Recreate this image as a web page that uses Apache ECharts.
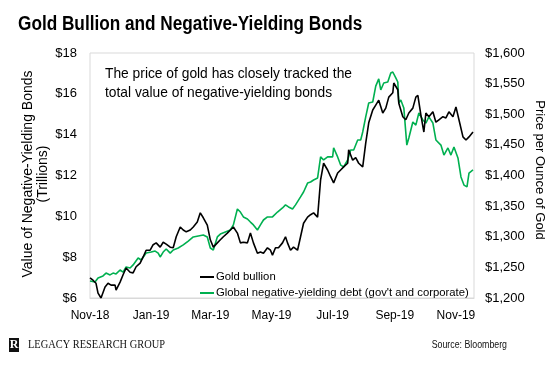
<!DOCTYPE html>
<html>
<head>
<meta charset="utf-8">
<script src="https://cdn.jsdelivr.net/npm/echarts@6/dist/echarts.min.js"></script>
<style>
html,body{margin:0;padding:0;background:#fff;}
#c{width:560px;height:372px;}
</style>
</head>
<body>
<div id="c"></div>
<script>
// ---- Data ----
const tickDates = ['2018-11-01','2019-01-01','2019-03-01','2019-05-01','2019-07-01','2019-09-01','2019-11-01'];
const tickLabels = ['Nov-18','Jan-19','Mar-19','May-19','Jul-19','Sep-19','Nov-19'];
const leftTicks = [6, 8, 10, 12, 14, 16, 18];
const rightTicks = [1200, 1250, 1300, 1350, 1400, 1450, 1500, 1550, 1600];

const debtDates = ['2018-11-01','2018-11-06','2018-11-09','2018-11-14','2018-11-17','2018-11-21','2018-11-24','2018-11-27','2018-12-01','2018-12-04','2018-12-07','2018-12-11','2018-12-14','2018-12-19','2018-12-22','2018-12-27','2019-01-01','2019-01-05','2019-01-08','2019-01-10','2019-01-13','2019-01-16','2019-01-20','2019-01-23','2019-01-28','2019-02-02','2019-02-07','2019-02-12','2019-02-17','2019-02-22','2019-02-26','2019-03-01','2019-03-04','2019-03-08','2019-03-11','2019-03-16','2019-03-21','2019-03-24','2019-03-28','2019-03-31','2019-04-03','2019-04-07','2019-04-10','2019-04-13','2019-04-17','2019-04-20','2019-04-23','2019-04-27','2019-05-02','2019-05-07','2019-05-12','2019-05-15','2019-05-18','2019-05-22','2019-05-25','2019-05-30','2019-06-02','2019-06-06','2019-06-09','2019-06-12','2019-06-16','2019-06-19','2019-06-22','2019-06-26','2019-07-01','2019-07-02','2019-07-06','2019-07-09','2019-07-12','2019-07-16','2019-07-19','2019-07-22','2019-07-26','2019-07-29','2019-07-31','2019-08-03','2019-08-06','2019-08-10','2019-08-13','2019-08-16','2019-08-18','2019-08-21','2019-08-25','2019-08-28','2019-08-30','2019-09-02','2019-09-04','2019-09-05','2019-09-07','2019-09-10','2019-09-13','2019-09-15','2019-09-19','2019-09-22','2019-09-25','2019-09-29','2019-10-02','2019-10-05','2019-10-09','2019-10-12','2019-10-17','2019-10-20','2019-10-24','2019-10-27','2019-10-30','2019-11-03','2019-11-06','2019-11-09','2019-11-12','2019-11-14','2019-11-18'];
const debtValues = [6.83,6.78,6.98,7.08,7.22,7.13,7.22,7.18,7.37,7.27,7.52,7.47,7.62,7.96,7.86,8.20,8.25,8.30,8.20,8.01,8.25,8.40,8.20,8.35,8.45,8.60,8.79,8.99,9.04,9.09,8.99,8.45,8.35,8.99,9.13,9.23,9.33,9.58,10.36,10.21,9.97,9.87,9.72,9.58,9.33,9.58,9.82,9.97,9.97,10.21,10.41,10.56,10.46,10.36,10.56,10.95,11.19,11.63,11.68,11.78,11.88,12.91,12.76,12.91,12.91,13.35,12.91,12.51,12.42,12.76,13.25,13.25,13.74,13.74,14.13,14.87,15.55,15.60,16.38,16.73,16.19,16.53,16.58,17.02,17.07,16.78,16.58,15.55,15.70,15.31,13.49,13.84,14.62,14.47,15.06,14.72,14.57,14.87,14.57,13.74,13.49,13.00,13.35,13.00,13.40,12.86,11.93,11.53,11.44,12.12,12.27];

const goldDates = ['2018-11-01','2018-11-04','2018-11-07','2018-11-09','2018-11-12','2018-11-16','2018-11-19','2018-11-22','2018-11-26','2018-11-27','2018-12-01','2018-12-04','2018-12-07','2018-12-11','2018-12-14','2018-12-17','2018-12-21','2018-12-24','2018-12-27','2018-12-31','2019-01-03','2019-01-06','2019-01-10','2019-01-13','2019-01-16','2019-01-20','2019-01-23','2019-01-26','2019-01-30','2019-02-02','2019-02-05','2019-02-09','2019-02-12','2019-02-16','2019-02-19','2019-02-22','2019-02-26','2019-03-01','2019-03-04','2019-03-08','2019-03-11','2019-03-14','2019-03-18','2019-03-21','2019-03-24','2019-03-28','2019-03-31','2019-04-03','2019-04-07','2019-04-10','2019-04-13','2019-04-17','2019-04-20','2019-04-23','2019-04-27','2019-04-30','2019-05-02','2019-05-05','2019-05-08','2019-05-12','2019-05-15','2019-05-17','2019-05-20','2019-05-23','2019-05-27','2019-05-30','2019-06-02','2019-06-06','2019-06-09','2019-06-12','2019-06-16','2019-06-19','2019-06-22','2019-06-26','2019-06-29','2019-07-02','2019-07-06','2019-07-09','2019-07-12','2019-07-16','2019-07-17','2019-07-21','2019-07-24','2019-07-27','2019-07-31','2019-08-03','2019-08-06','2019-08-10','2019-08-13','2019-08-16','2019-08-20','2019-08-23','2019-08-26','2019-08-30','2019-08-31','2019-09-04','2019-09-05','2019-09-09','2019-09-12','2019-09-15','2019-09-19','2019-09-22','2019-09-24','2019-09-27','2019-09-30','2019-10-02','2019-10-05','2019-10-09','2019-10-12','2019-10-15','2019-10-19','2019-10-22','2019-10-25','2019-10-29','2019-11-01','2019-11-04','2019-11-08','2019-11-11','2019-11-14','2019-11-18'];
const goldValues = [1233,1229,1224,1208,1200,1218,1224,1221,1221,1213,1226,1238,1249,1242,1241,1251,1257,1267,1278,1278,1287,1290,1283,1291,1288,1283,1282,1300,1316,1311,1308,1311,1316,1324,1339,1331,1319,1295,1283,1290,1295,1300,1306,1311,1316,1306,1290,1291,1290,1306,1290,1273,1275,1273,1282,1278,1270,1282,1282,1290,1300,1290,1278,1283,1278,1300,1322,1332,1336,1339,1332,1393,1420,1409,1398,1388,1404,1409,1414,1420,1442,1425,1429,1420,1414,1453,1486,1507,1515,1523,1502,1510,1528,1535,1551,1540,1518,1496,1491,1502,1510,1528,1531,1499,1471,1502,1496,1504,1487,1491,1496,1494,1504,1496,1512,1491,1463,1458,1463,1471];

const seriesNames = ['Gold bullion', "Global negative-yielding debt (gov't and corporate)"];
const titleText = 'Gold Bullion and Negative-Yielding Bonds';
const noteText = 'The price of gold has closely tracked the\ntotal value of negative-yielding bonds';
const leftAxisName = 'Value of Negative-Yielding Bonds\n(Trillions)';
const rightAxisName = 'Price per Ounce of Gold';
const brandText = 'LEGACY RESEARCH GROUP';
const sourceText = 'Source: Bloomberg';
const xMinDate = '2018-11-01';
const xMaxDate = '2019-11-19';

// ---- Chart ----
const FONT = '"Liberation Sans",Arial,sans-serif';
const ts = d => +echarts.time.parse(d);
const tickTs = tickDates.map(ts);
const chart = echarts.init(document.getElementById('c'), null, {renderer: 'canvas'});

function fmtMoney(v) {
  return '$' + String(v).replace(/\B(?=(\d{3})+(?!\d))/g, ',');
}

chart.setOption({
  animation: false,
  backgroundColor: '#fff',
  textStyle: {fontFamily: FONT},
  grid: {left: 90, right: 86, top: 53, bottom: 74, show: true, borderColor: '#d9d9d9', borderWidth: 1},
  xAxis: {
    type: 'value',
    min: ts(xMinDate),
    max: ts(xMaxDate),
    splitLine: {show: false},
    axisTick: {show: false},
    axisLine: {show: true, lineStyle: {color: '#d9d9d9'}},
    axisLabel: {
      customValues: tickTs,
      margin: 12,
      fontSize: 12,
      color: '#000',
      fontFamily: FONT,
      showMinLabel: true,
      showMaxLabel: true,
      formatter: function (v) {
        const i = tickTs.findIndex(t => Math.abs(t - v) < 86400000);
        return i >= 0 ? tickLabels[i] : '';
      }
    }
  },
  yAxis: [
    {
      type: 'value', min: leftTicks[0], max: leftTicks[leftTicks.length - 1], interval: 2,
      splitLine: {show: false}, axisTick: {show: false}, axisLine: {show: false},
      axisLabel: {margin: 13, fontSize: 13, color: '#000', fontFamily: FONT, formatter: v => '$' + v}
    },
    {
      type: 'value', min: rightTicks[0], max: rightTicks[rightTicks.length - 1], interval: 50,
      splitLine: {show: false}, axisTick: {show: false}, axisLine: {show: false},
      axisLabel: {margin: 11, fontSize: 13, color: '#000', fontFamily: FONT, formatter: fmtMoney}
    }
  ],
  legend: {
    orient: 'vertical',
    left: 200,
    top: 270,
    icon: 'rect',
    itemWidth: 14,
    itemHeight: 2,
    itemGap: 2,
    padding: 0,
    textStyle: {fontSize: 11.3, color: '#000', fontFamily: FONT, padding: [0, 0, 0, -3], lineHeight: 14},
    data: seriesNames
  },
  series: [
    {
      name: seriesNames[0], type: 'line', yAxisIndex: 1, symbol: 'none', showSymbol: false,
      lineStyle: {color: '#000', width: 1.6}, itemStyle: {color: '#000'}, z: 3,
      data: goldDates.map((d, i) => [ts(d), goldValues[i]])
    },
    {
      name: seriesNames[1], type: 'line', yAxisIndex: 0, symbol: 'none', showSymbol: false,
      lineStyle: {color: '#00b050', width: 1.6}, itemStyle: {color: '#00b050'}, z: 2,
      data: debtDates.map((d, i) => [ts(d), debtValues[i]])
    }
  ],
  graphic: [
    {type: 'text', x: 18, y: 14, scaleX: 0.86, style: {text: titleText, font: 'bold 20px ' + FONT, fill: '#000'}},
    {type: 'text', x: 105, y: 64, scaleX: 0.92, style: {text: noteText, font: '15px ' + FONT, fill: '#000', lineHeight: 19}},
    {type: 'text', x: 36, y: 174, rotation: Math.PI / 2, style: {text: leftAxisName, font: '14px ' + FONT, fill: '#000', align: 'center', verticalAlign: 'middle', lineHeight: 15}},
    {type: 'text', x: 540, y: 170, rotation: -Math.PI / 2, style: {text: rightAxisName, font: '13px ' + FONT, fill: '#000', align: 'center', verticalAlign: 'middle'}},
    {type: 'rect', shape: {x: 9, y: 338, width: 10, height: 14}, style: {fill: '#111'}},
    {type: 'text', x: 14, y: 345, style: {text: 'R', font: 'bold 12px "Liberation Serif",serif', fill: '#fff', align: 'center', verticalAlign: 'middle'}},
    {type: 'text', x: 28, y: 345, scaleX: 0.8, style: {text: brandText, font: '13px "Liberation Serif",serif', fill: '#111', verticalAlign: 'middle'}},
    {type: 'text', x: 507, y: 345, scaleX: 0.8, style: {text: sourceText, font: '11px ' + FONT, fill: '#111', align: 'right', verticalAlign: 'middle'}}
  ]
});
</script>
</body>
</html>
